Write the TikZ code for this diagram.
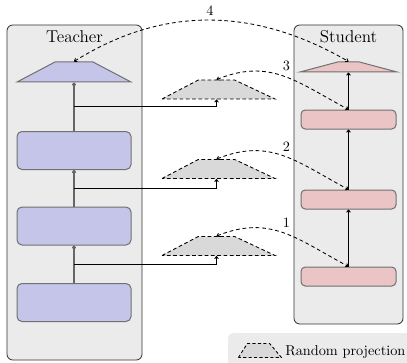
\documentclass[tikz,border=0pt]{standalone}
\usetikzlibrary{shapes.geometric,arrows.meta,calc}
\definecolor{panel}{HTML}{EBEBEB}
\definecolor{tfill}{HTML}{C5C5EA}
\definecolor{sfill}{HTML}{EBC5C5}
\definecolor{pfill}{HTML}{D9D9D9}
\definecolor{edge}{HTML}{707070}
\begin{document}
\begin{tikzpicture}[x=0.7pt,y=-0.7pt,
  >={To[length=2.2pt,width=3pt]},
  panelbox/.style={draw=black!80, fill=panel, rounded corners=4pt, line width=0.6pt,
    inner sep=0pt},
  tblock/.style={draw=edge, fill=tfill, rounded corners=3.5pt, line width=0.7pt,
    minimum width=114*0.7pt, minimum height=38*0.7pt, inner sep=0pt},
  sblock/.style={draw=edge, fill=sfill, rounded corners=3pt, line width=0.7pt,
    minimum width=95*0.7pt, minimum height=19*0.7pt, inner sep=0pt},
  trap/.style={trapezium, trapezium stretches=true, inner sep=0.5pt, line width=0.7pt},
  ttrap/.style={trap, draw=edge, fill=tfill, trapezium left angle=45,
    trapezium right angle=45, minimum width=114*0.7pt, minimum height=20*0.7pt},
  strap/.style={trap, draw=edge, fill=sfill, trapezium left angle=30,
    trapezium right angle=30, minimum width=97*0.7pt, minimum height=10*0.7pt},
  proj/.style={trap, draw=black, fill=pfill, dashed, line width=0.6pt,
    dash pattern=on 2.6pt off 1.8pt, trapezium left angle=45,
    trapezium right angle=42, minimum width=113*0.7pt, minimum height=19*0.7pt},
  tflow/.style={->, draw=black!60, line width=1.1pt},
  sflow/.style={->, draw=black, line width=0.7pt},
  branch/.style={->, draw=black, line width=0.6pt},
  match/.style={<->, dashed, line width=0.6pt, dash pattern=on 2.6pt off 2pt},
  title/.style={font=\large, inner sep=0pt, anchor=base},
  num/.style={inner sep=0pt, anchor=base}
]
\useasboundingbox (0,0) rectangle (407,362);
\clip (0,0) rectangle (407,362);

% panels
\node[panelbox, minimum width=135*0.7pt, minimum height=335*0.7pt] (tpanel) at (74.5,192.5) {};
\node[panelbox, minimum width=109*0.7pt, minimum height=299*0.7pt] (spanel) at (348.5,174.5) {};
\node[title] (tlabel) at (74.5,43) {Teacher};
\node[title] (slabel) at (348.5,43) {Student};

% teacher network
\node[ttrap] (thead) at (74,72) {};
\node[tblock] (t1) at (74,150.5) {};
\node[tblock] (t2) at (74,226) {};
\node[tblock] (t3) at (74,302.5) {};

% student network
\node[strap] (shead) at (348.5,67) {};
\node[sblock] (s1) at (348.5,119.5) {};
\node[sblock] (s2) at (348.5,199.5) {};
\node[sblock] (s3) at (348.5,276.5) {};

% random projections
\node[proj] (p1) at (216.5,89.5) {};
\node[proj] (p2) at (216.5,169) {};
\node[proj] (p3) at (216.5,246) {};

% forward passes
\draw[tflow] (t3.north) -- (t2.south);
\draw[tflow] (t2.north) -- (t1.south);
\draw[tflow] (t1.north) -- (thead.south);
\draw[sflow] (s3.north) -- (s2.south);
\draw[sflow] (s2.north) -- (s1.south);
\draw[sflow] (s1.north) -- (shead.south);

% taps into the projections
\coordinate (b3) at ($(t3.north)!0.5!(t2.south)$);
\coordinate (b2) at ($(t2.north)!0.5!(t1.south)$);
\coordinate (b1) at ($(t1.north)!0.5!(thead.south)$);
\draw[branch] (b3) -| (p3.south);
\draw[branch] (b2) -| (p2.south);
\draw[branch] (b1) -| (p1.south);

% matched pairs
\draw[match] (p3.north) to[out=22,in=152,looseness=1.1] (s3.north);
\draw[match] (p2.north) to[out=22,in=152,looseness=1.1] (s2.north);
\draw[match] (p1.north) to[out=22,in=152,looseness=1.1] (s1.north);
\draw[match] (thead.north) to[out=32,in=150] (shead.north);
\node[num] (n1) at (286.5,227) {1};
\node[num] (n2) at (286.5,151) {2};
\node[num] (n3) at (286.5,71) {3};
\node[num] (n4) at (210,16) {4};

% legend
\fill[panel, rounded corners=4pt] (228,333) rectangle (420,380);
\node[trap, draw=black, fill=pfill, dashed, line width=0.6pt,
  dash pattern=on 2.2pt off 1.6pt, trapezium left angle=68,
  trapezium right angle=62, minimum width=43*0.7pt, minimum height=14*0.7pt] (lkey) at (258.5,350.5) {};
\node[inner sep=0pt, anchor=base west] (ltext) at (285,355) {Random projection};
\end{tikzpicture}
\end{document}
